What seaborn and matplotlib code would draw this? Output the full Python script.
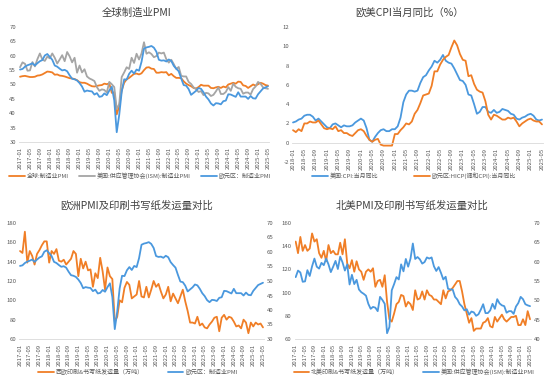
import numpy as np
import pandas as pd
import matplotlib
matplotlib.use("Agg")
import matplotlib.pyplot as plt
from matplotlib.lines import Line2D
import seaborn as sns

# ---------------- data ----------------
pmi_months = pd.date_range("2017-01", "2025-05", freq="MS").strftime("%Y-%m").tolist()
cpi_months = pd.date_range("2018-01", "2025-05", freq="MS").strftime("%Y-%m").tolist()

global_pmi = [
    52.7, 52.9, 53.0, 52.8, 52.6, 52.6, 52.7, 53.1, 53.2, 53.5, 54.0, 54.5,
    54.4, 54.2, 53.4, 53.5, 53.1, 53.0, 52.8, 52.5, 52.2, 52.1, 51.9, 51.5,
    50.8, 50.6, 50.6, 50.3, 49.8, 49.4, 49.3, 49.5, 49.7, 49.8, 50.3, 50.1,
    50.4, 47.1, 47.3, 39.6, 42.4, 47.9, 50.6, 51.8, 52.3, 53.0, 53.7, 53.8,
    53.5, 53.9, 55.0, 55.9, 56.0, 55.5, 55.4, 54.1, 54.1, 54.3, 54.2, 54.3,
    53.2, 53.7, 52.9, 52.3, 52.3, 52.2, 51.1, 50.3, 49.8, 49.4, 48.8, 48.6,
    49.1, 49.9, 49.6, 49.6, 49.6, 48.8, 48.7, 49.0, 49.2, 48.8, 49.3, 49.0,
    50.0, 50.3, 50.6, 50.3, 51.0, 50.9, 49.7, 49.5, 48.8, 49.4, 50.0, 49.6,
    50.1, 50.6, 50.3, 49.8, 49.6,
]
ism_pmi = [
    56.0, 57.7, 57.2, 54.8, 54.9, 57.8, 56.3, 58.8, 60.8, 58.7, 58.2, 59.7,
    59.1, 60.8, 59.3, 57.3, 58.7, 60.2, 58.1, 61.3, 59.8, 57.7, 59.3, 54.1,
    56.6, 54.2, 55.3, 52.8, 52.1, 51.7, 51.2, 49.1, 47.8, 48.3, 48.1, 47.2,
    50.9, 50.1, 49.1, 41.5, 43.1, 52.6, 54.2, 56.0, 55.4, 59.3, 57.5, 60.7,
    58.7, 60.8, 64.7, 60.7, 61.2, 60.6, 59.5, 59.9, 61.1, 60.8, 61.1, 58.8,
    57.6, 58.6, 57.1, 55.4, 56.1, 53.0, 52.8, 52.8, 50.9, 50.2, 49.0, 48.4,
    47.4, 47.7, 46.3, 47.1, 46.9, 46.0, 46.4, 47.6, 49.0, 46.7, 46.7, 47.4,
    49.1, 47.8, 50.3, 49.2, 48.7, 48.5, 46.8, 47.2, 47.2, 46.5, 48.4, 49.3,
    50.9, 50.3, 49.0, 48.7, 48.5,
]
ez_pmi = [
    55.2, 55.4, 56.2, 56.7, 57.0, 57.4, 56.6, 57.4, 58.1, 58.5, 60.1, 60.6,
    59.6, 58.6, 56.6, 56.2, 55.5, 54.9, 55.1, 54.6, 53.2, 52.0, 51.8, 51.4,
    50.5, 49.3, 47.5, 47.9, 47.7, 47.6, 46.5, 47.0, 45.7, 45.9, 46.9, 46.3,
    47.9, 49.2, 44.5, 33.4, 39.4, 47.4, 51.8, 51.7, 53.7, 54.8, 53.8, 55.2,
    54.8, 57.9, 62.5, 62.9, 63.1, 63.4, 62.8, 61.4, 58.6, 58.3, 58.4, 58.0,
    58.7, 58.2, 56.5, 55.5, 54.6, 52.1, 49.8, 49.6, 48.4, 46.4, 47.1, 47.8,
    48.8, 48.5, 47.3, 45.8, 44.8, 43.4, 42.7, 43.5, 43.4, 43.1, 44.2, 44.4,
    46.6, 46.5, 46.1, 45.7, 47.3, 45.8, 45.8, 45.8, 45.0, 46.0, 45.2, 45.1,
    46.6, 47.6, 48.6, 49.0, 49.4,
]
us_cpi = [
    2.1, 2.2, 2.4, 2.5, 2.8, 2.9, 2.9, 2.7, 2.3, 2.5, 2.2, 1.9,
    1.6, 1.5, 1.9, 2.0, 1.8, 1.6, 1.8, 1.7, 1.7, 1.8, 2.1, 2.3,
    2.5, 2.3, 1.5, 0.3, 0.1, 0.6, 1.0, 1.3, 1.4, 1.2, 1.2, 1.4,
    1.4, 1.7, 2.6, 4.2, 5.0, 5.4, 5.4, 5.3, 5.4, 6.2, 6.8, 7.0,
    7.5, 7.9, 8.5, 8.3, 8.6, 9.1, 8.5, 8.3, 8.2, 7.7, 7.1, 6.5,
    6.4, 6.0, 5.0, 4.9, 4.0, 3.0, 3.2, 3.7, 3.7, 3.2, 3.1, 3.4,
    3.1, 3.2, 3.5, 3.4, 3.3, 3.0, 2.9, 2.5, 2.4, 2.6, 2.7, 2.9,
    3.0, 2.8, 2.4, 2.3, 2.4,
]
ez_hicp = [
    1.3, 1.1, 1.4, 1.2, 2.0, 2.0, 2.2, 2.1, 2.1, 2.3, 1.9, 1.5,
    1.4, 1.5, 1.4, 1.7, 1.2, 1.3, 1.0, 1.0, 0.8, 0.7, 1.0, 1.3,
    1.4, 1.2, 0.7, 0.3, 0.1, 0.3, 0.4, -0.2, -0.3, -0.3, -0.3, -0.3,
    0.9, 0.9, 1.3, 1.6, 2.0, 1.9, 2.2, 3.0, 3.4, 4.1, 4.9, 5.0,
    5.1, 5.9, 7.4, 7.4, 8.1, 8.6, 8.9, 9.1, 9.9, 10.6, 10.1, 9.2,
    8.6, 8.5, 6.9, 7.0, 6.1, 5.5, 5.3, 5.2, 4.3, 2.9, 2.4, 2.9,
    2.8, 2.6, 2.4, 2.4, 2.6, 2.5, 2.6, 2.2, 1.7, 2.0, 2.2, 2.4,
    2.5, 2.3, 2.2, 2.2, 1.9,
]
eu_paper = [
    151, 149, 171, 139, 151, 146, 137, 148, 152, 157, 161, 161,
    139, 151, 148, 153, 141, 140, 142, 137, 140, 143, 151, 148,
    125, 143, 133, 140, 131, 132, 114, 128, 123, 144, 130, 111,
    134, 125, 122, 78, 83, 100, 98, 113, 119, 116, 102, 104,
    106, 120, 104, 103, 114, 103, 111, 120, 114, 117, 109, 102,
    106, 114, 99, 107, 102, 97, 104, 111, 99, 89, 77, 77,
    76, 83, 74, 76, 72, 71, 75, 78, 82, 83, 68, 82,
    85, 80, 83, 82, 78, 73, 74, 71, 80, 77, 66, 77,
    73, 77, 75, 76, 72,
]
na_paper = [
    144, 134, 148, 136, 141, 136, 138, 151, 144, 146, 134, 130,
    136, 127, 141, 134, 136, 133, 133, 143, 133, 146, 125, 121,
    128, 118, 127, 120, 118, 111, 118, 120, 118, 121, 105, 110,
    111, 105, 115, 92, 77, 75, 82, 90, 92, 98, 97, 88,
    92, 90, 85, 102, 94, 95, 101, 94, 102, 98, 97, 94,
    94, 92, 90, 102, 95, 101, 102, 104, 107, 110, 110, 101,
    90, 82, 74, 78, 67, 69, 69, 69, 74, 75, 78, 71,
    70, 79, 75, 78, 81, 77, 75, 77, 79, 79, 80, 72,
    72, 77, 72, 84, 77,
]

titles = ["全球制造业PMI", "欧美CPI当月同比（%）", "欧洲PMI及印刷书写纸发运量对比", "北美PMI及印刷书写纸发运量对比"]
lbl_global = "全球:制造业PMI"
lbl_ism = "美国:供应管理协会(ISM):制造业PMI"
lbl_ez = "欧元区：制造业PMI"
lbl_uscpi = "美国:CPI:当月同比"
lbl_hicp = "欧元区:HICP(调和CPI):当月同比"
lbl_eupaper = "西欧印刷&书写纸发运量（万吨）"
lbl_napaper = "北美印刷&书写纸发运量（万吨）"

# ---------------- style ----------------
sns.set_theme(style="white")
plt.rcParams["font.family"] = ["Noto Sans CJK SC", "DejaVu Sans"]
plt.rcParams["axes.unicode_minus"] = False

ORANGE = "#F07E26"
BLUE = "#4A98DE"
GRAY = "#A5A5A5"
TXT = "#595959"
LW = 1.3
FS = 4.3

W, H = 550, 382
fig = plt.figure(figsize=(5.5, 3.82), dpi=100)


def add_ax(x0, x1, y_top, y_bot):
    return fig.add_axes([x0 / W, 1 - y_bot / H, (x1 - x0) / W, (y_bot - y_top) / H])


def style(ax, labels, n):
    for s in ["left", "right", "top"]:
        ax.spines[s].set_visible(False)
    ax.spines["bottom"].set_color("#D9D9D9")
    ax.spines["bottom"].set_linewidth(0.6)
    ax.grid(False)
    ax.set_xlim(-0.5, n - 0.5)
    ax.set_xticks(range(0, n, 4))
    ax.set_xticklabels(labels[::4])
    ax.set_xticks(range(0, n, 1), minor=True)
    ax.tick_params(axis="x", which="major", length=2, width=0.5, color="#D9D9D9",
                   labelsize=FS, labelcolor=TXT, rotation=90, pad=1.5)
    ax.tick_params(axis="x", which="minor", length=0)
    ax.tick_params(axis="y", length=0, labelsize=FS, labelcolor=TXT, pad=2)
    ax.set_xlabel("")
    ax.set_ylabel("")


def legend(handles_labels, xc, yc, colsp=2.0):
    hs = [Line2D([0], [0], color=c, lw=LW) for c, _ in handles_labels]
    ls = [l for _, l in handles_labels]
    fig.legend(hs, ls, loc="center", bbox_to_anchor=(xc / W, 1 - yc / H), ncol=len(hs),
               frameon=False, fontsize=FS, handlelength=2.6, handletextpad=0.3,
               columnspacing=colsp, labelcolor=TXT)


def title(t, xc, yc):
    fig.text(xc / W, 1 - yc / H, t, ha="center", va="center", fontsize=7.5, color="#404040")


# ---- panel 1: global PMI ----
n1 = len(pmi_months)
df1 = pd.DataFrame({"i": range(n1), "g": global_pmi, "ism": ism_pmi, "ez": ez_pmi})
ax1 = add_ax(18.8, 269.2, 27, 142)
sns.lineplot(data=df1, x="i", y="g", color=ORANGE, lw=LW, ax=ax1)
sns.lineplot(data=df1, x="i", y="ism", color=GRAY, lw=LW, ax=ax1)
sns.lineplot(data=df1, x="i", y="ez", color=BLUE, lw=LW, ax=ax1)
ax1.set_ylim(30, 70)
ax1.set_yticks(range(30, 71, 5))
style(ax1, pmi_months, n1)
title(titles[0], 137, 13)
legend([(ORANGE, lbl_global), (GRAY, lbl_ism), (BLUE, lbl_ez)], 140, 176, 1.8)

# ---- panel 2: CPI ----
n2 = len(cpi_months)
df2 = pd.DataFrame({"i": range(n2), "us": us_cpi, "ez": ez_hicp})
ax2 = add_ax(291.6, 543.4, 27, 162)
sns.lineplot(data=df2, x="i", y="us", color=BLUE, lw=LW, ax=ax2)
sns.lineplot(data=df2, x="i", y="ez", color=ORANGE, lw=LW, ax=ax2)
ax2.set_ylim(-2, 12)
ax2.set_yticks(range(-2, 13, 2))
style(ax2, cpi_months, n2)
ax2.spines["bottom"].set_position(("data", 0))
title(titles[1], 410, 13)
legend([(BLUE, lbl_uscpi), (ORANGE, lbl_hicp)], 414, 176, 6.0)

# ---- panel 3: Europe ----
df3 = pd.DataFrame({"i": range(n1), "paper": eu_paper, "ez": ez_pmi})
ax3 = add_ax(18.8, 264.2, 223, 339)
sns.lineplot(data=df3, x="i", y="paper", color=ORANGE, lw=LW, ax=ax3)
ax3.set_ylim(60, 180)
ax3.set_yticks(range(60, 181, 20))
style(ax3, pmi_months, n1)
ax3b = ax3.twinx()
sns.lineplot(data=df3, x="i", y="ez", color=BLUE, lw=LW, ax=ax3b)
ax3b.set_ylim(30, 70)
ax3b.set_yticks(range(30, 71, 5))
for s in ["left", "right", "top", "bottom"]:
    ax3b.spines[s].set_visible(False)
ax3b.grid(False)
ax3b.set_ylabel("")
ax3b.tick_params(axis="y", length=0, labelsize=FS, labelcolor=TXT, pad=2)
title(titles[2], 137, 206)
legend([(ORANGE, lbl_eupaper), (BLUE, lbl_ez)], 138, 372, 4.0)

# ---- panel 4: North America ----
df4 = pd.DataFrame({"i": range(n1), "paper": na_paper, "ism": ism_pmi})
ax4 = add_ax(294.5, 531.2, 223, 339)
sns.lineplot(data=df4, x="i", y="paper", color=ORANGE, lw=LW, ax=ax4)
ax4.set_ylim(60, 160)
ax4.set_yticks(range(60, 161, 20))
style(ax4, pmi_months, n1)
ax4b = ax4.twinx()
sns.lineplot(data=df4, x="i", y="ism", color=BLUE, lw=LW, ax=ax4b)
ax4b.set_ylim(40, 70)
ax4b.set_yticks(range(40, 71, 5))
for s in ["left", "right", "top", "bottom"]:
    ax4b.spines[s].set_visible(False)
ax4b.grid(False)
ax4b.set_ylabel("")
ax4b.tick_params(axis="y", length=0, labelsize=FS, labelcolor=TXT, pad=2)
title(titles[3], 412, 206)
legend([(ORANGE, lbl_napaper), (BLUE, lbl_ism)], 414, 372, 4.0)

fig.savefig("out.png", dpi=100, facecolor="white")
